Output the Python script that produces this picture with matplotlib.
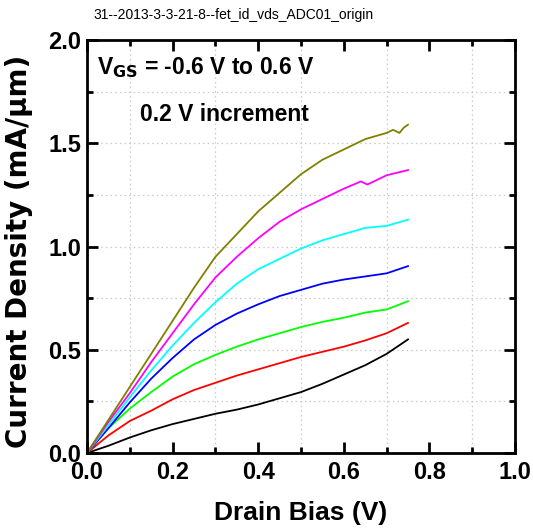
import numpy as np
import matplotlib
matplotlib.use("Agg")
import matplotlib.pyplot as plt
from matplotlib.ticker import MultipleLocator

plt.rcParams['font.family'] = ['Liberation Sans', 'DejaVu Sans']

# drain bias (V)
vds = [0.0, 0.05, 0.1, 0.15, 0.2, 0.25, 0.3, 0.35, 0.4, 0.45, 0.5,
       0.55, 0.6, 0.65, 0.7, 0.75]
vds_top = [0.0, 0.05, 0.1, 0.15, 0.2, 0.25, 0.3, 0.35, 0.4, 0.45, 0.5,
           0.55, 0.6, 0.65, 0.7, 0.715, 0.73, 0.74, 0.75]
vds_mag = [0.0, 0.05, 0.1, 0.15, 0.2, 0.25, 0.3, 0.35, 0.4, 0.45, 0.5,
           0.55, 0.6, 0.64, 0.655, 0.7, 0.75]

# current density (mA/um), Vgs = -0.6 ... 0.6 V
j_m06 = [0.0, 0.035, 0.075, 0.11, 0.14, 0.165, 0.19, 0.21, 0.235, 0.265,
         0.295, 0.335, 0.38, 0.425, 0.48, 0.55]
j_m04 = [0.0, 0.085, 0.155, 0.205, 0.26, 0.305, 0.34, 0.375, 0.405, 0.435,
         0.465, 0.49, 0.515, 0.545, 0.58, 0.63]
j_m02 = [0.0, 0.12, 0.215, 0.295, 0.37, 0.43, 0.475, 0.515, 0.55, 0.58,
         0.61, 0.635, 0.655, 0.68, 0.695, 0.735]
j_00 = [0.0, 0.12, 0.245, 0.36, 0.46, 0.55, 0.62, 0.675, 0.72, 0.76,
        0.79, 0.82, 0.84, 0.855, 0.87, 0.905]
j_02 = [0.0, 0.135, 0.27, 0.40, 0.52, 0.63, 0.73, 0.82, 0.89, 0.94,
        0.99, 1.03, 1.06, 1.09, 1.10, 1.13]
j_04 = [0.0, 0.15, 0.29, 0.44, 0.58, 0.72, 0.85, 0.95, 1.04, 1.12,
        1.18, 1.23, 1.28, 1.315, 1.30, 1.345, 1.37]
j_06 = [0.0, 0.16, 0.32, 0.48, 0.64, 0.80, 0.95, 1.06, 1.17, 1.26,
        1.35, 1.42, 1.47, 1.52, 1.55, 1.565, 1.55, 1.575, 1.59]

fig = plt.figure(figsize=(5.33, 5.30), dpi=100)
ax = fig.add_axes([87/533, 1-453/530, 428/533, 413/530])

ax.plot(vds, j_m06, color='black', lw=1.3)
ax.plot(vds, j_m04, color='#ff0000', lw=1.3)
ax.plot(vds, j_m02, color='#00ff00', lw=1.3)
ax.plot(vds, j_00, color='#0000ff', lw=1.3)
ax.plot(vds, j_02, color='#00ffff', lw=1.3)
ax.plot(vds_mag, j_04, color='#ff00ff', lw=1.3)
ax.plot(vds_top, j_06, color='#808000', lw=1.3)

ax.set_xlim(0, 1.0)
ax.set_ylim(0, 2.0)
ax.xaxis.set_major_locator(MultipleLocator(0.2))
ax.xaxis.set_minor_locator(MultipleLocator(0.1))
ax.yaxis.set_major_locator(MultipleLocator(0.5))
ax.yaxis.set_minor_locator(MultipleLocator(0.25))

# dotted grid: odd tenths in x, every quarter in y
for gx in [0.1, 0.3, 0.5, 0.7, 0.9]:
    ax.axvline(gx, color='#c8c8c8', ls=(0, (1.2, 2.5)), lw=0.9, zorder=0)
for gy in [0.25, 0.5, 0.75, 1.0, 1.25, 1.5, 1.75]:
    ax.axhline(gy, color='#c8c8c8', ls=(0, (1.2, 2.5)), lw=0.9, zorder=0)

for s in ax.spines.values():
    s.set_linewidth(2)
ax.tick_params(which='both', direction='in', top=True, right=True, width=2)
ax.tick_params(which='major', length=8)
ax.tick_params(which='minor', length=4)

tick_font = {'family': ['Liberation Sans Narrow', 'Liberation Sans'],
             'weight': 'bold', 'size': 17}
ax.set_xticks([0.0, 0.2, 0.4, 0.6, 0.8, 1.0])
ax.set_xticklabels(['0.0', '0.2', '0.4', '0.6', '0.8', '1.0'], fontdict=tick_font)
ax.set_yticks([0.0, 0.5, 1.0, 1.5, 2.0])
ax.set_yticklabels(['0.0', '0.5', '1.0', '1.5', '2.0'], fontdict=tick_font)
ax.tick_params(axis='x', pad=6)
ax.tick_params(axis='y', pad=4)

ax.set_xlabel('Drain Bias (V)', fontsize=19, fontweight='bold', labelpad=12)
ax.set_ylabel('Current Density (mA/\u03bcm)', fontsize=20, fontweight='bold',
              family='DejaVu Sans')
ax.yaxis.set_label_coords(-0.126, 0.489)

ax.text(0.023, 0.918, r'V$_{\mathbf{GS}}$ = -0.6 V to 0.6 V', transform=ax.transAxes,
        fontsize=16.5, fontweight='bold', va='baseline')
ax.text(0.124, 0.805, '0.2 V increment', transform=ax.transAxes,
        fontsize=16.5, fontweight='bold', va='baseline')

fig.text(233/533, 1-15/530, '31--2013-3-3-21-8--fet_id_vds_ADC01_origin',
         family=['Liberation Sans Narrow', 'Liberation Sans'], fontsize=10,
         ha='center', va='center')

fig.savefig('out.png', dpi=100)
